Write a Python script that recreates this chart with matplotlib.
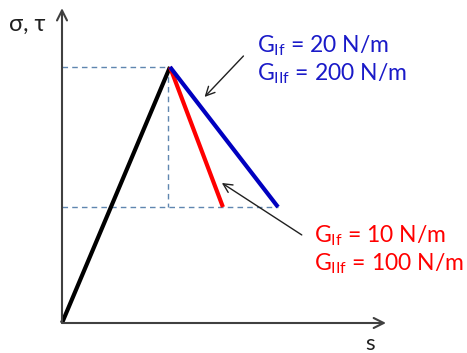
import matplotlib
matplotlib.use('Agg')
import matplotlib.pyplot as plt

# bilinear traction-separation law, normalised units
s_elastic = [0.0, 1.0]
sig_elastic = [0.0, 1.0]
s_high = [1.0, 2.0]        # G_If = 20, G_IIf = 200
sig_high = [1.0, 0.453]
s_low = [1.0, 1.49]        # G_If = 10, G_IIf = 100
sig_low = [1.0, 0.453]
s_max, sig_max = 3.0, 1.23

plt.rcParams['font.family'] = ['Lato', 'DejaVu Sans']
plt.rcParams['mathtext.fontset'] = 'custom'
plt.rcParams['mathtext.rm'] = 'Lato'
plt.rcParams['mathtext.it'] = 'Lato'

fig = plt.figure(figsize=(4.67, 3.53), dpi=100)
ax = fig.add_axes([0, 0, 1, 1])
ax.set_xlim(-62 / 108, 405 / 108)
ax.set_ylim(-30 / 256, 323 / 256)
ax.axis('off')

# axes with arrow heads
ax.annotate('', xy=(s_max, 0), xytext=(0, 0),
            arrowprops=dict(arrowstyle='->', color='#404040', lw=1.5, mutation_scale=18,
                            shrinkA=0, shrinkB=0))
ax.annotate('', xy=(0, sig_max), xytext=(0, 0),
            arrowprops=dict(arrowstyle='->', color='#404040', lw=1.5, mutation_scale=18,
                            shrinkA=0, shrinkB=0))

# dashed guides
dash = dict(color='#5f86b0', lw=1.0, ls=(0, (4, 3)))
ax.plot([0, s_elastic[1]], [1.0, 1.0], **dash)
ax.plot([0.98, 0.98], [1.0, sig_high[1]], **dash)
ax.plot([0, s_high[1]], [sig_high[1], sig_high[1]], **dash)

ax.plot(s_elastic, sig_elastic, color='black', lw=3, solid_capstyle='butt')
ax.plot(s_low, sig_low, color='#ff0000', lw=3, solid_capstyle='butt')
ax.plot(s_high, sig_high, color='#0000c0', lw=3, solid_capstyle='butt')

# pointer arrows
ax.annotate('', xy=(1.32, 0.883), xytext=(1.68, 1.043),
            arrowprops=dict(arrowstyle='->', color='#202020', lw=1.0, mutation_scale=16,
                            shrinkA=0, shrinkB=0))
ax.annotate('', xy=(1.48, 0.547), xytext=(2.22, 0.344),
            arrowprops=dict(arrowstyle='->', color='#202020', lw=1.0, mutation_scale=16,
                            shrinkA=0, shrinkB=0))

fs = 16.5
ax.text(257 / 467, 1 - 52 / 353, r'G$_{\mathrm{If}}$ = 20 N/m', transform=ax.transAxes,
        color='#1a1ac8', fontsize=fs, va='baseline')
ax.text(257 / 467, 1 - 80 / 353, r'G$_{\mathrm{IIf}}$ = 200 N/m', transform=ax.transAxes,
        color='#1a1ac8', fontsize=fs, va='baseline')
ax.text(314 / 467, 1 - 242 / 353, r'G$_{\mathrm{If}}$ = 10 N/m', transform=ax.transAxes,
        color='#ff0000', fontsize=fs, va='baseline')
ax.text(314 / 467, 1 - 270 / 353, r'G$_{\mathrm{IIf}}$ = 100 N/m', transform=ax.transAxes,
        color='#ff0000', fontsize=fs, va='baseline')

ax.text(9 / 467, 1 - 31 / 353, 'σ, τ', transform=ax.transAxes, fontsize=17,
        va='baseline', color='#202020')
ax.text(365 / 467, 1 - 350 / 353, 's', transform=ax.transAxes, fontsize=16,
        va='baseline', color='#202020')

fig.savefig('out.png', dpi=100)
